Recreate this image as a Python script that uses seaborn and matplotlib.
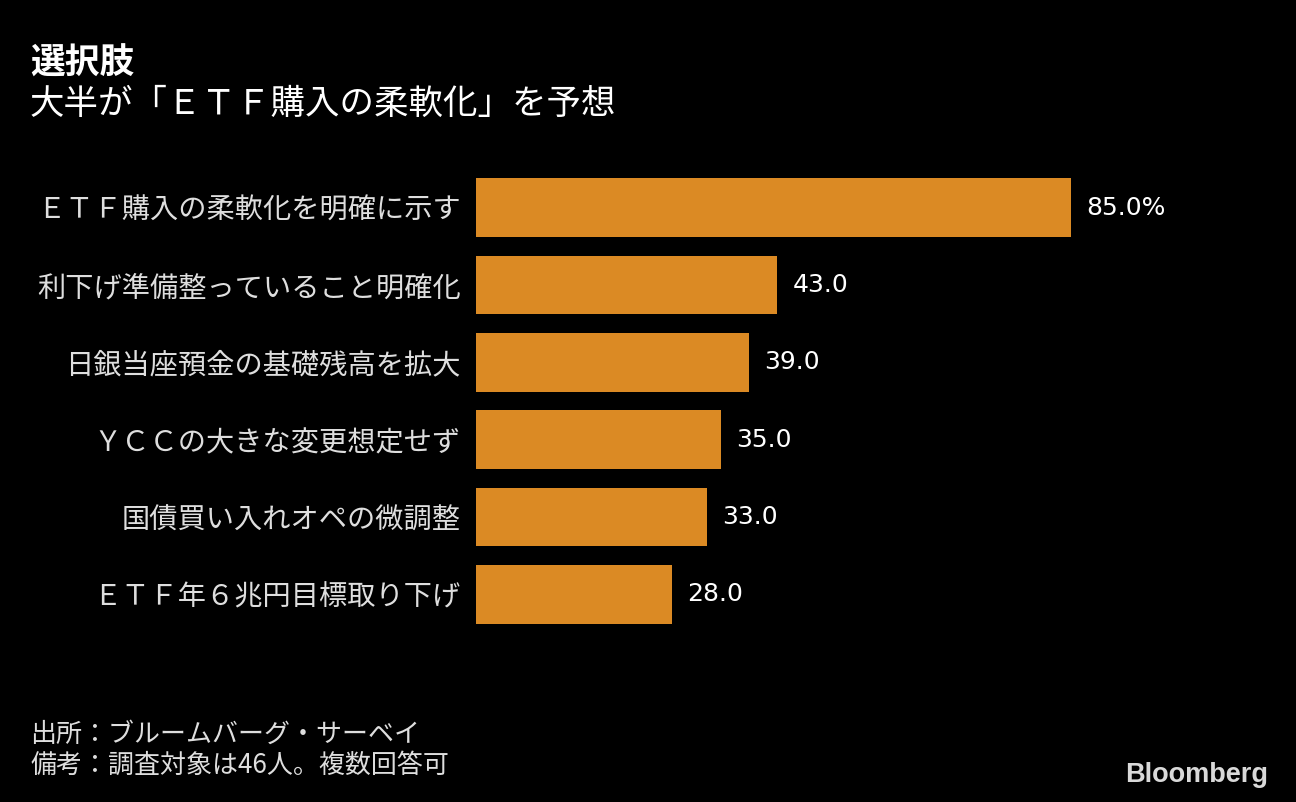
import matplotlib
matplotlib.use('Agg')
import matplotlib.pyplot as plt
import seaborn as sns

# survey answers (share of respondents, %)
labels = ['ＥＴＦ購入の柔軟化を明確に示す',
          '利下げ準備整っていること明確化',
          '日銀当座預金の基礎残高を拡大',
          'ＹＣＣの大きな変更想定せず',
          '国債買い入れオペの微調整',
          'ＥＴＦ年６兆円目標取り下げ']
values = [85.0, 43.0, 39.0, 35.0, 33.0, 28.0]
value_text = ['85.0%', '43.0', '39.0', '35.0', '33.0', '28.0']

title = '選択肢'
subtitle = '大半が「ＥＴＦ購入の柔軟化」を予想'
notes = ['出所：ブルームバーグ・サーベイ', '備考：調査対象は46人。複数回答可']

sns.set_theme(style='white')
plt.rcParams['font.family'] = ['Noto Sans CJK JP', 'DejaVu Sans']

bar_color = '#DB8A24'
bg = '#000000'

fig = plt.figure(figsize=(12.96, 8.02), dpi=100, facecolor=bg)
# axes: x from 476 px to 1176 px (0..100), y covers 6 bars 169..633 px
ax = fig.add_axes([476 / 1296, 1 - 633 / 802, 700 / 1296, 464 / 802])
ax.set_facecolor(bg)

sns.barplot(x=values, y=labels, color=bar_color, width=0.76,
            saturation=1, orient='h', linewidth=0, edgecolor='none', ax=ax)

ax.set_xlim(0, 100)
ax.set_ylim(5.5, -0.5)
for s in ax.spines.values():
    s.set_visible(False)
ax.set_xticks([])
ax.tick_params(axis='y', length=0, pad=11, labelsize=20.3, labelcolor='#dedede')
ax.set_xlabel('')
ax.set_ylabel('')

ax.bar_label(ax.containers[0], labels=value_text, padding=11,
             color='white', fontsize=18, family=['DejaVu Sans'])

fig.text(30 / 1296, 1 - 63 / 802, title, color='white', fontsize=25,
         fontweight='bold', va='center', ha='left')
fig.text(30 / 1296, 1 - 104 / 802, subtitle, color='white', fontsize=24.8,
         va='center', ha='left')
fig.text(30 / 1296, 1 - 734 / 802, notes[0], color='#dedede', fontsize=18.7,
         va='center', ha='left')
fig.text(30 / 1296, 1 - 765 / 802, notes[1], color='#dedede', fontsize=18.7,
         va='center', ha='left')
fig.text(1268 / 1296, 1 - 775 / 802, 'Bloomberg', color='#d9d9d9', fontsize=19.5,
         fontweight='bold', family='Liberation Sans', va='center', ha='right')

fig.savefig('out.png', dpi=100, facecolor=bg)
